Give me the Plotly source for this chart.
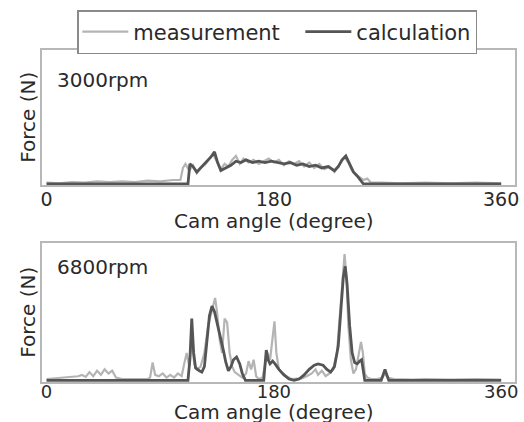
import plotly.graph_objects as go

# ---- data: cam angle (degree) vs. force (relative units) ----
# 3000 rpm
meas_3000_x = [0, 10, 20, 30, 40, 50, 60, 70, 80, 90, 100, 106, 108, 110, 113, 116, 119, 122, 126, 129,
               132, 135, 138, 141, 144, 147, 150, 153, 156, 160, 164, 168, 172, 176, 180, 184, 188, 192,
               196, 200, 204, 208, 212, 216, 220, 224, 228, 232, 236, 239, 242, 245, 248, 251, 254, 257,
               265, 280, 300, 320, 340, 360]
meas_3000_y = [0.01, 0.005, 0.015, 0.01, 0.02, 0.015, 0.02, 0.015, 0.025, 0.02, 0.03, 0.03, 0.12, 0.15,
               0.10, 0.14, 0.08, 0.12, 0.15, 0.19, 0.22, 0.17, 0.11, 0.15, 0.13, 0.18, 0.21, 0.15, 0.19,
               0.16, 0.18, 0.15, 0.17, 0.19, 0.16, 0.18, 0.14, 0.17, 0.15, 0.17, 0.13, 0.16, 0.12, 0.15,
               0.11, 0.13, 0.09, 0.15, 0.20, 0.16, 0.10, 0.07, 0.05, 0.03, 0.04, 0.01, 0.01, 0.005,
               0.01, 0.005, 0.01, 0.005]

calc_3000_x = [0, 112, 113.5, 116, 119, 123, 127, 130, 133, 135.5, 138, 142, 146, 150, 154, 158, 163,
               168, 173, 178, 183, 188, 193, 198, 203, 208, 213, 218, 223, 228, 231, 234, 237, 240, 243,
               246, 249, 251, 360]
calc_3000_y = [0, 0, 0.15, 0.13, 0.09, 0.13, 0.17, 0.20, 0.24, 0.16, 0.10, 0.12, 0.14, 0.17, 0.16, 0.18,
               0.16, 0.17, 0.16, 0.17, 0.16, 0.15, 0.16, 0.14, 0.15, 0.13, 0.14, 0.12, 0.13, 0.10, 0.13,
               0.18, 0.21, 0.15, 0.09, 0.06, 0.02, 0, 0]

# 6800 rpm
meas_6800_x = [0, 5, 10, 15, 20, 25, 28, 31, 34, 37, 40, 43, 46, 49, 52, 55, 60, 65, 70, 75, 80, 82, 84,
               86, 89, 92, 95, 98, 101, 104, 107, 109, 111, 113, 115, 117, 119, 122, 125, 128, 131, 133.5,
               135, 137, 139, 141, 143, 145, 147, 149, 152, 155, 158, 160, 162, 164, 166, 168, 171, 173,
               175, 177, 179, 180.5, 182, 184, 187, 190, 194, 198, 202, 206, 210, 213, 215, 218, 221, 224,
               227, 230, 233, 235, 236, 237.5, 239, 241, 243, 245, 247, 249, 250.5, 252, 254, 257, 262,
               266, 268, 270, 275, 290, 300, 320, 340, 360]
meas_6800_y = [0.01, 0.015, 0.02, 0.025, 0.03, 0.03, 0.04, 0.025, 0.06, 0.03, 0.07, 0.04, 0.08, 0.05,
               0.07, 0.02, 0.01, 0.01, 0.005, 0.01, 0.01, 0.02, 0.13, 0.04, 0.03, 0.05, 0.02, 0.04, 0.02,
               0.05, 0.03, 0.12, 0.20, 0.10, 0.30, 0.12, 0.08, 0.10, 0.20, 0.40, 0.52, 0.60, 0.50, 0.30,
               0.20, 0.45, 0.42, 0.20, 0.10, 0.06, 0.04, 0.02, 0.05, 0.14, 0.08, 0.15, 0.03, 0.01, 0.02,
               0.12, 0.20, 0.15, 0.30, 0.43, 0.20, 0.08, 0.05, 0.03, 0.01, 0.01, 0.015, 0.03, 0.05, 0.08,
               0.04, 0.07, 0.03, 0.05, 0.08, 0.20, 0.55, 0.80, 0.92, 0.75, 0.40, 0.15, 0.05, 0.08, 0.18,
               0.28, 0.20, 0.05, 0.02, 0.01, 0.01, 0.02, 0.05, 0.02, 0.01, 0.005, 0.01, 0.005, 0.01, 0.005]

calc_6800_x = [0, 112, 113.5, 115, 116.5, 118, 121, 123, 125, 127, 129, 131, 133, 135, 138, 140, 142,
               144, 146, 148, 150.5, 153, 155, 157.5, 172, 173, 174, 175.5, 177, 179, 181, 184, 188, 192,
               196, 200, 204, 208, 212, 215, 219, 222, 225, 228, 231, 233, 235, 236.5, 238, 240, 242, 244,
               246, 248, 249.5, 251, 252, 265, 266.5, 268, 269.5, 271, 360]
calc_6800_y = [0, 0, 0.15, 0.45, 0.20, 0.09, 0.07, 0.06, 0.10, 0.30, 0.47, 0.54, 0.50, 0.42, 0.31, 0.22,
               0.13, 0.07, 0.10, 0.15, 0.17, 0.12, 0.05, 0.0, 0.0, 0.12, 0.22, 0.15, 0.12, 0.14, 0.12,
               0.08, 0.04, 0.01, 0.0, 0.01, 0.04, 0.08, 0.11, 0.12, 0.11, 0.08, 0.06, 0.10, 0.25, 0.50,
               0.75, 0.83, 0.70, 0.40, 0.20, 0.13, 0.12, 0.14, 0.15, 0.06, 0.0, 0.0, 0.05, 0.08, 0.04,
               0.0, 0]

angle_ticks = [0, 180, 360]
angle_tick_text = ["0", "180", "360"]
panel_labels = ["3000rpm", "6800rpm"]
x_title = "Cam angle (degree)"
y_title = "Force (N)"

MEAS_COLOR = "#b4b4b4"
CALC_COLOR = "#555555"
TEXT_COLOR = "#2a2a2a"
FONT = "DejaVu Sans"

W, H = 524, 422


def py(px):
    """Convert a pixel row (from top) to paper y."""
    return 1 - px / H


def pxx(px):
    return px / W


fig = go.Figure()

fig.add_trace(go.Scatter(x=meas_3000_x, y=meas_3000_y, mode="lines", name="measurement",
                         line=dict(color=MEAS_COLOR, width=2.2), xaxis="x", yaxis="y",
                         legendgroup="m", legendwidth=162))
fig.add_trace(go.Scatter(x=calc_3000_x, y=calc_3000_y, mode="lines", name="calculation",
                         line=dict(color=CALC_COLOR, width=2.8), xaxis="x", yaxis="y", legendgroup="c"))
fig.add_trace(go.Scatter(x=meas_6800_x, y=meas_6800_y, mode="lines", name="measurement",
                         line=dict(color=MEAS_COLOR, width=2.2), xaxis="x2", yaxis="y2",
                         legendgroup="m", showlegend=False))
fig.add_trace(go.Scatter(x=calc_6800_x, y=calc_6800_y, mode="lines", name="calculation",
                         line=dict(color=CALC_COLOR, width=2.8), xaxis="x2", yaxis="y2",
                         legendgroup="c", showlegend=False))

x_range = [-3.9, 371]
frame = dict(showline=True, mirror=True, linecolor="#b8b8b8", linewidth=1.5,
             showgrid=False, zeroline=False)

xaxis_common = dict(range=x_range, tickvals=angle_ticks, ticktext=angle_tick_text, ticks="", **frame)
yaxis_common = dict(showticklabels=False, ticks="", **frame)

fig.update_layout(
    width=W, height=H,
    margin=dict(l=0, r=0, t=0, b=0),
    paper_bgcolor="white", plot_bgcolor="white",
    font=dict(family=FONT, size=20, color=TEXT_COLOR),
    xaxis=dict(domain=[pxx(41), pxx(519)], anchor="y", ticklabelstandoff=-4,
               tickfont=dict(family=FONT, size=19, color=TEXT_COLOR), **xaxis_common),
    yaxis=dict(domain=[py(185), py(50)], anchor="x", range=[-0.0075, 1.0], **yaxis_common),
    xaxis2=dict(domain=[pxx(41), pxx(519)], anchor="y2", ticklabelstandoff=-7,
                tickfont=dict(family=FONT, size=18, color=TEXT_COLOR), **xaxis_common),
    yaxis2=dict(domain=[py(382), py(243)], anchor="x2", range=[-0.012, 1.0], **yaxis_common),
    showlegend=True,
    legend=dict(orientation="h", x=(77 + 481) / 2 / W, xanchor="center", y=py(10), yanchor="top",
                bordercolor="#8a8a8a", borderwidth=1.5, bgcolor="white",
                font=dict(family=FONT, size=21, color=TEXT_COLOR),
                itemwidth=46, tracegroupgap=0),
)

annotations = [
    dict(text=panel_labels[0], x=pxx(55), y=py(80), xanchor="left", yanchor="middle"),
    dict(text=panel_labels[1], x=pxx(55), y=py(267), xanchor="left", yanchor="middle"),
    dict(text=x_title, x=pxx(276), y=py(221), xanchor="center", yanchor="middle"),
    dict(text=x_title, x=pxx(276), y=py(412), xanchor="center", yanchor="middle"),
    dict(text=y_title, x=pxx(27), y=py(117), xanchor="center", yanchor="middle", textangle=-90),
    dict(text=y_title, x=pxx(27), y=py(312), xanchor="center", yanchor="middle", textangle=-90),
]
for a in annotations:
    a.update(xref="paper", yref="paper", showarrow=False,
             font=dict(family=FONT, size=20, color=TEXT_COLOR))
fig.update_layout(annotations=annotations)

fig.write_html("out.html")
